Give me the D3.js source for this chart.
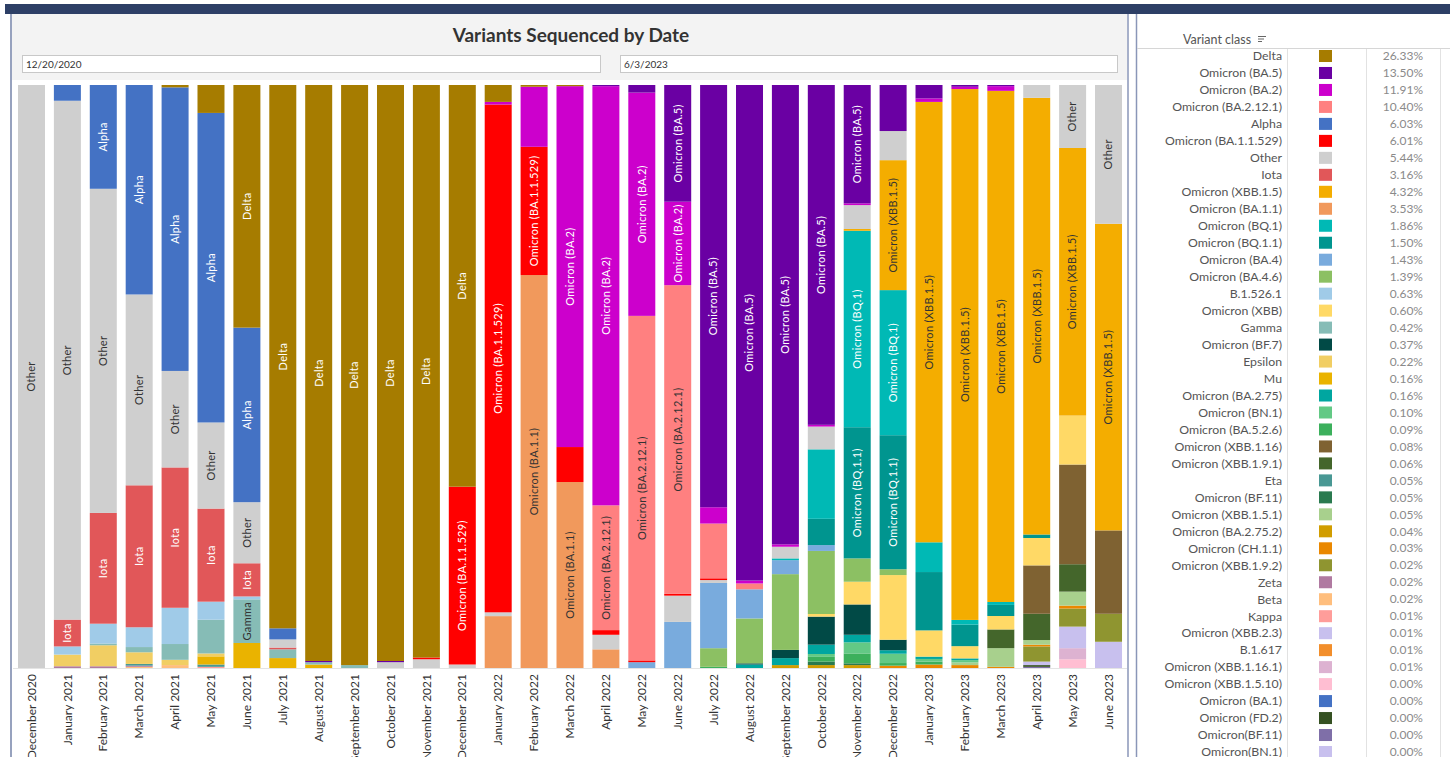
<!DOCTYPE html>
<html>
<head>
<meta charset="utf-8">
<script src="https://cdn.jsdelivr.net/npm/d3@7"></script>
<style>
  body { margin: 0; background: #fff; overflow: hidden; }
  text { font-family: Lato, "Noto Sans", sans-serif; }
</style>
</head>
<body>
<svg id="chart" width="1450" height="757"></svg>
<script>
// months on the x axis
var months = ["December 2020",
  "January 2021", "February 2021", "March 2021", "April 2021", "May 2021", "June 2021",
  "July 2021", "August 2021", "September 2021", "October 2021", "November 2021", "December 2021",
  "January 2022", "February 2022", "March 2022", "April 2022", "May 2022", "June 2022",
  "July 2022", "August 2022", "September 2022", "October 2022", "November 2022", "December 2022",
  "January 2023", "February 2023", "March 2023", "April 2023", "May 2023", "June 2023"];

// legend order (also stack order, first one on top)
var variants = ["Delta", "Omicron (BA.5)", "Omicron (BA.2)", "Omicron (BA.2.12.1)", "Alpha",
  "Omicron (BA.1.1.529)", "Other", "Iota", "Omicron (XBB.1.5)", "Omicron (BA.1.1)", "Omicron (BQ.1)",
  "Omicron (BQ.1.1)", "Omicron (BA.4)", "Omicron (BA.4.6)", "B.1.526.1", "Omicron (XBB)", "Gamma",
  "Omicron (BF.7)", "Epsilon", "Mu", "Omicron (BA.2.75)", "Omicron (BN.1)", "Omicron (BA.5.2.6)",
  "Omicron (XBB.1.16)", "Omicron (XBB.1.9.1)", "Eta", "Omicron (BF.11)", "Omicron (XBB.1.5.1)",
  "Omicron (BA.2.75.2)", "Omicron (CH.1.1)", "Omicron (XBB.1.9.2)", "Zeta", "Beta", "Kappa",
  "Omicron (XBB.2.3)", "B.1.617", "Omicron (XBB.1.16.1)", "Omicron (XBB.1.5.10)", "Omicron (BA.1)",
  "Omicron (FD.2)", "Omicron(BF.11)", "Omicron(BN.1)"];

var colors = ["#a67c00", "#6a00a3", "#cc00cc", "#ff8080", "#4472c4",
  "#ff0000", "#cfcfcf", "#e15759", "#f4ad00", "#f1995c", "#00b9b5",
  "#00958f", "#79abdd", "#8cc063", "#a0cbe8", "#ffd966", "#86bcb6",
  "#014a46", "#f1ce63", "#eab300", "#00a6a0", "#63c985", "#3cb05c",
  "#7f6232", "#44662b", "#499894", "#2a7a4f", "#a8d08d",
  "#d19d00", "#ea8800", "#8f9530", "#b07aa1", "#ffbe7d", "#ff9d9a",
  "#c8c0ee", "#f28e2b", "#ddb2d1", "#ffbed2", "#4472c4",
  "#355122", "#7f6fa8", "#c8c0ee"];

var shares = ["26.33%", "13.50%", "11.91%", "10.40%", "6.03%", "6.01%", "5.44%", "3.16%", "4.32%",
  "3.53%", "1.86%", "1.50%", "1.43%", "1.39%", "0.63%", "0.60%", "0.42%", "0.37%", "0.22%", "0.16%",
  "0.16%", "0.10%", "0.09%", "0.08%", "0.06%", "0.05%", "0.05%", "0.05%", "0.04%", "0.03%", "0.02%",
  "0.02%", "0.02%", "0.01%", "0.01%", "0.01%", "0.01%", "0.00%", "0.00%", "0.00%", "0.00%", "0.00%"];

// variants whose segments carry a name label, and which of those use dark text
var labelled = ["Delta", "Omicron (BA.5)", "Omicron (BA.2)", "Omicron (BA.2.12.1)", "Alpha",
  "Omicron (BA.1.1.529)", "Other", "Iota", "Omicron (XBB.1.5)", "Omicron (BA.1.1)", "Omicron (BQ.1)",
  "Omicron (BQ.1.1)", "Gamma"];
var darkLabels = ["Other", "Gamma", "Omicron (XBB.1.5)", "Omicron (BA.1.1)", "Omicron (BA.2.12.1)"];

// monthly share (%) per variant:  Dec20 | Jan-Dec 2021 | Jan-Dec 2022 | Jan-Jun 2023
var delta    = [0,  0,0,0,0.4,4.8,41.7,93.1,98.8,99.5,98.8,98.2,68.9,  2.9,0.3,0.2,0,0,0,0,0,0,0,0,0,  0,0,0,0,0,0];
var ba5      = [0,  0,0,0,0,0,0,0,0.2,0,0.2,0,0,  0,0,0,0.2,1.3,20,72.5,85,78.8,58.2,20.3,7.9,  2.3,0.3,0.2,0,0,0];
var ba2      = [0,  0,0,0,0,0,0,0,0,0,0,0,0,  0.45,10.3,61.9,71.9,38.3,14.3,2.8,0.5,0.4,0.3,0.3,0,  0.6,0.4,0.8,0,0,0];
var ba2121   = [0,  0,0,0,0,0,0,0,0,0,0,0,0,  0,0,0,21.4,59.1,52.9,9.4,1.0,0,0,0,0,  0,0,0,0,0,0];
var alpha    = [0,  2.7,17.8,36,48.5,53.2,30,1.9,0,0,0,0,0,  0,0,0,0,0,0,0,0,0,0,0,0,  0,0,0,0,0,0];
var ba11529  = [0,  0,0,0,0,0,0,0,0,0,0,0.3,30.5,  87.1,22,6,0.8,0.3,0.3,0.3,0,0,0,0,0,  0,0,0,0,0,0];
var other    = [100,  89,55.6,32.8,16.5,14.8,10.5,1.4,0,0,1.0,1.5,0.6,  0.65,0,0,2.5,0,4.5,0.5,0,2,3.9,4.1,5,  0,0,0,2.2,10.8,23.8];
var iota     = [0,  4.6,19,24.4,24,16,5.7,0.3,0,0,0,0,0,  0,0,0,0,0,0,0,0,0,0,0,0,  0,0,0,0,0,0];
var xbb15    = [0,  0,0,0,0,0,0,0,0,0,0,0,0,  0,0,0,0,0,0,0,0,0,0,0.3,22.3,  75.5,91.1,87.5,74.9,45.9,52.6];
var ba11     = [0,  0,0,0,0,0,0,0,0,0,0,0,0,  8.9,67.4,31.9,3.2,0,0,0,0,0,0,0,0,  0,0,0,0,0,0];
var bq1      = [0,  0,0,0,0,0,0,0,0,0,0,0,0,  0,0,0,0,0,0,0,0,0.3,11.9,33.7,24.9,  5.1,0.8,0.5,0,0,0];
var bq11     = [0,  0,0,0,0,0,0,0,0,0,0,0,0,  0,0,0,0,0,0,0,0,0,4.5,22.5,23,  10,3.7,1.9,0.6,0,0];
var ba4      = [0,  0,0,0,0,0,0,0,0,0,0,0,0,  0,0,0,0,1.0,7.9,11.2,5.0,2.4,1.0,0,0,  0,0,0,0,0,0];
var ba46     = [0,  0,0,0,0,0,0,0,0,0,0,0,0,  0,0,0,0,0,0,3.2,7.7,13,10.8,4.0,1.0,  0,0,0,0,0,0];
var b15261   = [0,  1.4,3.4,3.4,6.2,3.1,0.5,0,0,0,0,0,0,  0,0,0,0,0,0,0,0,0,0,0,0,  0,0,0,0,0,0];
var xbb      = [0,  0,0,0,0,0,0,0,0,0,0,0,0,  0,0,0,0,0,0,0,0,0,0.45,3.9,11.1,  4.5,2.1,2.3,4.7,8.4,0];
var gamma    = [0,  0,0.3,0.9,2.7,5.8,7.5,1.5,0.4,0.5,0,0,0,  0,0,0,0,0,0,0,0,0,0,0,0,  0,0,0,0,0,0];
var bf7      = [0,  0,0,0,0,0,0,0,0,0,0,0,0,  0,0,0,0,0,0,0,0.2,1.4,4.8,5.2,1.8,  0,0,0,0,0,0];
var epsilon  = [0,  2.0,3.6,2.0,0.9,0.5,0,0,0,0,0,0,0,  0,0,0,0,0,0,0,0,0,0,0,0,  0,0,0,0,0,0];
var mu       = [0,  0,0,0,0,1.4,4.3,1.7,0.6,0,0,0,0,  0,0,0,0,0,0,0,0,0,0,0,0,  0,0,0,0,0,0];
var ba275    = [0,  0,0,0,0,0,0,0,0,0,0,0,0,  0,0,0,0,0,0,0,0.6,1.2,1.6,1.3,0.6,  0.4,0.3,0,0,0,0];
var bn1      = [0,  0,0,0,0,0,0,0,0,0,0,0,0,  0,0,0,0,0,0,0,0,0,0.5,1.9,1.6,  0.45,0.4,0,0,0,0];
var ba526    = [0,  0,0,0,0,0,0,0,0,0,0,0,0,  0,0,0,0,0,0,0.2,0,0,0.8,1.7,0.45,  0.5,0,0,0,0,0];
var xbb116   = [0,  0,0,0,0,0,0,0,0,0,0,0,0,  0,0,0,0,0,0,0,0,0,0,0,0,  0,0,0,8.3,17.1,14.3];
var xbb191   = [0,  0,0,0,0,0,0,0,0,0,0,0,0,  0,0,0,0,0,0,0,0,0,0,0,0,  0,0,3.2,4.5,4.7,0];
var eta      = [0,  0,0,0.3,0,0.4,0,0,0,0,0,0,0,  0,0,0,0,0,0,0,0,0,0,0,0,  0,0,0,0,0,0];
var bf11     = [0,  0,0,0,0,0,0,0,0,0,0,0,0,  0,0,0,0,0,0,0,0,0,0.6,0.3,0,  0,0,0,0,0,0];
var xbb151   = [0,  0,0,0,0,0,0,0,0,0,0,0,0,  0,0,0,0,0,0,0,0,0,0,0,0,  0,0.45,3.2,0.8,2.4,0];
var ba2752   = [0,  0,0,0,0,0,0,0,0,0,0,0,0,  0,0,0,0,0,0,0,0,0.5,0.5,0.5,0,  0,0,0,0,0,0];
var ch11     = [0,  0,0,0,0,0,0,0,0,0,0,0,0,  0,0,0,0,0,0,0,0,0,0,0,0.4,  0.6,0.5,0.2,0.3,0.5,0];
var xbb192   = [0,  0,0,0,0,0,0,0,0,0,0,0,0,  0,0,0,0,0,0,0,0,0,0,0,0,  0,0,0,2.6,3.1,4.8];
var zeta     = [0,  0.3,0.3,0.2,0,0,0,0,0,0,0,0,0,  0,0,0,0,0,0,0,0,0,0,0,0,  0,0,0,0,0,0];
var beta     = [0,  0,0,0.2,0.5,0,0,0,0,0,0,0,0,  0,0,0,0,0,0,0,0,0,0,0,0,  0,0,0,0,0,0];
var kappa    = [0,  0,0,0,0,0.2,0,0,0,0,0,0,0,  0,0,0,0,0,0,0,0,0,0,0,0,  0,0,0,0,0,0];
var xbb23    = [0,  0,0,0,0,0,0,0,0,0,0,0,0,  0,0,0,0,0,0,0,0,0,0,0,0,  0,0,0,0.6,3.7,4.5];
var b1617    = [0,  0,0,0,0,0,0,0,0,0,0,0,0,  0,0,0,0,0,0,0,0,0,0,0,0,  0,0,0,0,0,0];
var xbb1161  = [0,  0,0,0,0,0,0,0,0,0,0,0,0,  0,0,0,0,0,0,0,0,0,0,0,0,  0,0,0,0,1.9,0];
var xbb1510  = [0,  0,0,0,0,0,0,0,0,0,0,0,0,  0,0,0,0,0,0,0,0,0,0,0,0,  0,0,0,0,1.5,0];
var ba1      = [0,  0,0,0,0,0,0,0,0,0,0,0,0,  0,0,0,0,0,0,0,0,0,0,0,0,  0,0,0,0,0,0];
var fd2      = [0,  0,0,0,0,0,0,0,0,0,0,0,0,  0,0,0,0,0,0,0,0,0,0,0,0,  0,0,0,0.3,0,0];
var bf11b    = [0,  0,0,0,0,0,0,0,0,0,0,0,0,  0,0,0,0,0,0,0,0,0,0,0,0,  0,0,0,0.2,0,0];
var bn1b     = [0,  0,0,0,0,0,0,0,0,0,0,0,0,  0,0,0,0,0,0,0,0,0,0,0,0,  0,0,0,0,0,0];

var seriesValues = [delta, ba5, ba2, ba2121, alpha, ba11529, other, iota, xbb15, ba11, bq1, bq11,
  ba4, ba46, b15261, xbb, gamma, bf7, epsilon, mu, ba275, bn1, ba526, xbb116, xbb191, eta, bf11,
  xbb151, ba2752, ch11, xbb192, zeta, beta, kappa, xbb23, b1617, xbb1161, xbb1510, ba1, fd2, bf11b, bn1b];

// one row per month for d3.stack
var table = months.map(function(m, i) {
  var row = { month: m };
  variants.forEach(function(v, k) { row[v] = seriesValues[k][i]; });
  return row;
});

var svg = d3.select('#chart');
var color = d3.scaleOrdinal().domain(variants).range(colors);

// ---- dashboard frame ----
svg.append('rect').attr('x', 5).attr('y', 4).attr('width', 1445).attr('height', 10).attr('fill', '#2d3f66');
svg.append('rect').attr('x', 12).attr('y', 14).attr('width', 1115).attr('height', 66).attr('fill', '#f3f3f3');
svg.append('line').attr('x1', 11).attr('x2', 11).attr('y1', 14).attr('y2', 757).attr('stroke', '#7483a8').attr('stroke-width', 1.5);
svg.append('line').attr('x1', 1128).attr('x2', 1128).attr('y1', 14).attr('y2', 757).attr('stroke', '#8a96b8').attr('stroke-width', 1.5);
svg.append('line').attr('x1', 1136.5).attr('x2', 1136.5).attr('y1', 14).attr('y2', 757).attr('stroke', '#8a96b8').attr('stroke-width', 1.5);

svg.append('text').attr('x', 571).attr('y', 42).attr('text-anchor', 'middle')
  .attr('font-size', 19).attr('font-weight', 'bold').attr('fill', '#333')
  .text('Variants Sequenced by Date');

var dateBoxes = [[22, 600, '12/20/2020'], [620, 1117, '6/3/2023']];
dateBoxes.forEach(function(b) {
  svg.append('rect').attr('x', b[0] + 0.5).attr('y', 55.5).attr('width', b[1] - b[0]).attr('height', 17)
    .attr('fill', '#fff').attr('stroke', '#c8c8c8');
  svg.append('text').attr('x', b[0] + 4).attr('y', 67.5).attr('font-size', 10).attr('fill', '#333').text(b[2]);
});

// ---- stacked bars ----
var x = d3.scaleBand().domain(months).range([12.6, 1127.4]).paddingInner(0.248).paddingOuter(0.15);
var y = d3.scaleLinear().domain([0, 1]).range([668, 85]);

var stack = d3.stack().keys(variants.slice().reverse()).offset(d3.stackOffsetExpand);
var layers = stack(table);

var plot = svg.append('g');
var groups = plot.selectAll('g.layer').data(layers).enter().append('g')
  .attr('class', 'layer')
  .attr('fill', function(d) { return color(d.key); });

groups.selectAll('rect').data(function(d) { return d; }).enter().append('rect')
  .attr('x', function(d) { return x(d.data.month); })
  .attr('width', x.bandwidth())
  .attr('y', function(d) { return y(d[1]); })
  .attr('height', function(d) { return Math.max(0, y(d[0]) - y(d[1])); });

// labels inside segments when they fit
layers.forEach(function(layer) {
  if (labelled.indexOf(layer.key) < 0) return;
  layer.forEach(function(d) {
    var h = y(d[0]) - y(d[1]);
    if (h < 14) return;
    var cx = x(d.data.month) + x.bandwidth() / 2;
    var cy = (y(d[0]) + y(d[1])) / 2;
    var t = plot.append('text')
      .attr('transform', 'translate(' + cx + ',' + cy + ') rotate(-90)')
      .attr('text-anchor', 'middle').attr('dy', '0.35em')
      .attr('font-size', 11).attr('letter-spacing', 0.3)
      .attr('fill', darkLabels.indexOf(layer.key) >= 0 ? '#333' : '#fff')
      .text(layer.key);
    if (t.node().getComputedTextLength() > h - 3) t.remove();
  });
});

svg.append('line').attr('x1', 13).attr('x2', 1127).attr('y1', 668.5).attr('y2', 668.5).attr('stroke', '#e4e4e4');

// month labels
var xAxis = svg.append('g').attr('transform', 'translate(0,674)')
  .call(d3.axisBottom(x).tickSize(0).tickPadding(0));
xAxis.select('.domain').remove();
xAxis.selectAll('text')
  .attr('transform', 'rotate(-90)')
  .attr('text-anchor', 'end').attr('x', 0).attr('y', 0).attr('dy', '0.35em')
  .attr('font-size', 12).attr('font-family', 'Lato, "Noto Sans", sans-serif').attr('fill', '#333');

// ---- legend table ----
var legend = svg.append('g');
legend.append('text').attr('x', 1183).attr('y', 44).attr('font-size', 12.5).attr('fill', '#555').text('Variant class');
[0, 1, 2].forEach(function(i) {
  legend.append('line').attr('x1', 1258).attr('x2', 1266 - i * 2).attr('y1', 36.5 + i * 2.5).attr('y2', 36.5 + i * 2.5)
    .attr('stroke', '#666').attr('stroke-width', 1);
});
legend.append('line').attr('x1', 1137).attr('x2', 1450).attr('y1', 48.5).attr('y2', 48.5).attr('stroke', '#d6d6d6');
[1287.5, 1366.5, 1440.5].forEach(function(lx) {
  legend.append('line').attr('x1', lx).attr('x2', lx).attr('y1', 49).attr('y2', 757).attr('stroke', '#e2e2e2');
});

var rowY = d3.scalePoint().domain(variants).range([56, 752]);
var rows = legend.selectAll('g.row').data(variants).enter().append('g')
  .attr('class', 'row')
  .attr('transform', function(d) { return 'translate(0,' + rowY(d) + ')'; });
rows.append('text').attr('x', 1282).attr('text-anchor', 'end').attr('dy', '0.35em')
  .attr('font-size', 12.3).attr('fill', '#555').text(function(d) { return d; });
rows.append('rect').attr('x', 1319).attr('y', -6).attr('width', 13).attr('height', 12)
  .attr('fill', function(d) { return color(d); });
rows.append('text').attr('x', 1423).attr('text-anchor', 'end').attr('dy', '0.35em')
  .attr('font-size', 12).attr('fill', '#8a8a8a').text(function(d, i) { return shares[i]; });
</script>
</body>
</html>
